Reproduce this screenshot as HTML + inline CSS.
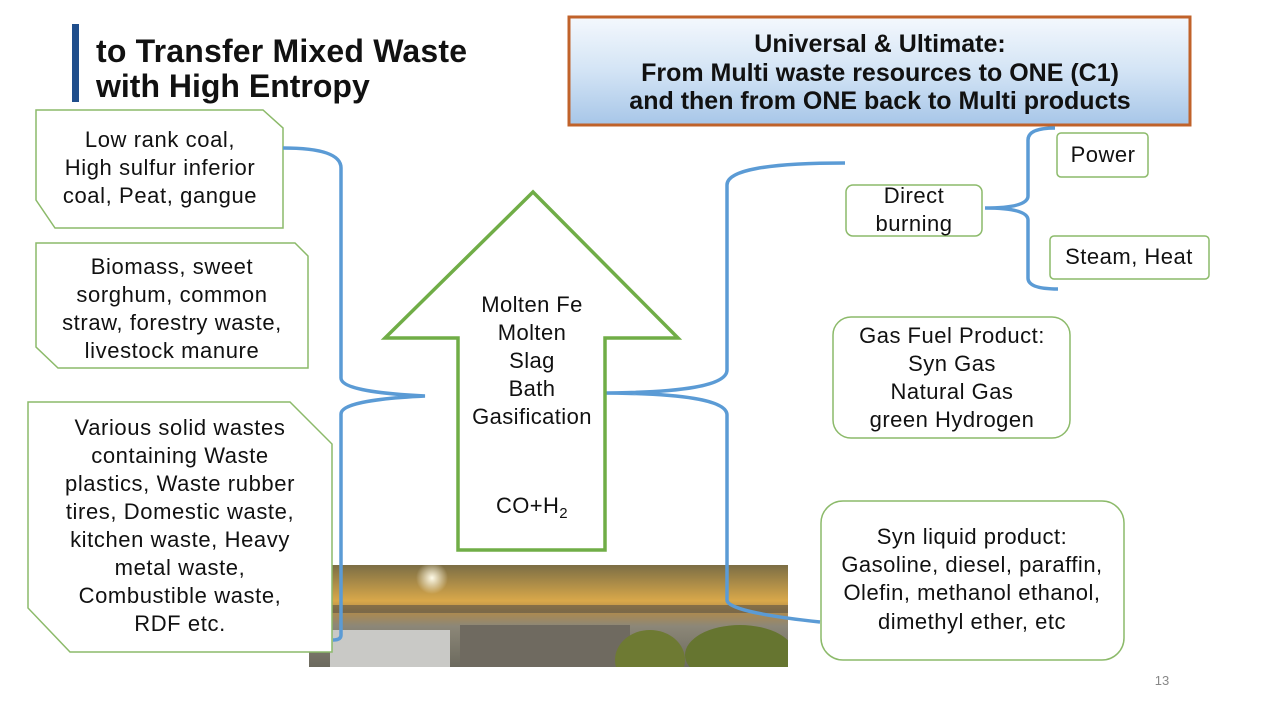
<!DOCTYPE html>
<html><head><meta charset="utf-8"><style>
html,body{margin:0;padding:0;background:#fff}
body{width:1267px;height:713px;overflow:hidden;position:relative;font-family:"Liberation Sans","Noto Sans CJK SC",sans-serif}
svg{position:absolute;left:0;top:0}
</style></head><body>
<svg width="1267" height="713" viewBox="0 0 1267 713" font-family="'Liberation Sans','Noto Sans CJK SC',sans-serif">
<defs>
<linearGradient id="tb" x1="0" y1="0" x2="0" y2="1"><stop offset="0" stop-color="#f4f8fd"/><stop offset="0.5" stop-color="#d3e4f5"/><stop offset="1" stop-color="#a7c6e8"/></linearGradient>
<linearGradient id="sky" x1="0" y1="0" x2="0" y2="1"><stop offset="0" stop-color="#7c6e45"/><stop offset="0.35" stop-color="#d9a84a"/><stop offset="0.45" stop-color="#b08a4a"/><stop offset="0.6" stop-color="#8c8778"/><stop offset="1" stop-color="#6c6a5e"/></linearGradient>
<radialGradient id="sun" cx="0.5" cy="0.5" r="0.5"><stop offset="0" stop-color="#fffbe8"/><stop offset="1" stop-color="#fffbe8" stop-opacity="0"/></radialGradient>
<clipPath id="pc"><rect x="309" y="565" width="479" height="102"/></clipPath>
</defs>
<rect x="72" y="24" width="7" height="78" fill="#1f4e8c"/>
<text x="96" y="62" font-size="32" font-weight="bold" fill="#111" textLength="371">to Transfer Mixed Waste</text>
<text x="96" y="97" font-size="32" font-weight="bold" fill="#111">with High Entropy</text>
<rect x="569" y="17" width="621" height="108" fill="url(#tb)" stroke="#c0622a" stroke-width="3"/>
<g font-size="25" font-weight="bold" text-anchor="middle" fill="#111">
<text x="880" y="52">Universal &amp; Ultimate:</text>
<text x="880" y="81">From Multi waste resources to ONE (C1)</text>
<text x="880" y="109">and then from ONE back to Multi products</text>
</g>
<g clip-path="url(#pc)">
<rect x="309" y="565" width="479" height="102" fill="url(#sky)"/>
<circle cx="432" cy="578" r="16" fill="url(#sun)"/>
<rect x="309" y="605" width="479" height="8" fill="#5a5346" opacity="0.6"/>
<rect x="330" y="630" width="120" height="37" fill="#c9c9c6"/>
<rect x="460" y="625" width="170" height="42" fill="#6f6a60"/>
<ellipse cx="650" cy="660" rx="35" ry="30" fill="#6e7a33"/>
<ellipse cx="740" cy="655" rx="55" ry="30" fill="#667530"/>
</g>
<g fill="#fff" stroke="#8cba6a" stroke-width="1.5">
<polygon points="36,110 263,110 283,128 283,228 55,228 36,200"/>
<polygon points="36,243 295,243 308,256 308,368 58,368 36,347"/>
<polygon points="28,402 290,402 332,444 332,652 70,652 28,608"/>
</g>
<g font-size="22" letter-spacing="0.6" text-anchor="middle" fill="#111">
<text x="160" y="147">Low rank coal,</text>
<text x="160" y="175">High sulfur inferior</text>
<text x="160" y="203">coal, Peat, gangue</text>
<text x="172" y="274">Biomass, sweet</text>
<text x="172" y="302">sorghum, common</text>
<text x="172" y="330">straw, forestry waste,</text>
<text x="172" y="358">livestock manure</text>
<text x="180" y="435">Various solid wastes</text>
<text x="180" y="463">containing Waste</text>
<text x="180" y="491">plastics, Waste rubber</text>
<text x="180" y="519">tires, Domestic waste,</text>
<text x="180" y="547">kitchen waste, Heavy</text>
<text x="180" y="575">metal waste,</text>
<text x="180" y="603">Combustible waste,</text>
<text x="180" y="631">RDF etc.</text>
</g>
<g fill="none" stroke="#5b9bd5" stroke-width="3.5">
<path d="M283,148 Q341,148 341,168 L341,378 Q341,392 425,396 Q341,400 341,414 L341,635 Q341,640 333,640"/>
<path d="M845,163 Q727,163 727,185 L727,370 Q727,393 597,393 Q727,393 727,415 L727,600 Q727,612 820,622"/>
<path d="M1055,128 Q1028,128 1028,140 L1028,196 Q1028,208 985,208 Q1028,208 1028,220 L1028,278 Q1028,289 1058,289"/>
</g>
<polygon points="533,192 678,338 605,338 605,550 458,550 458,338 385,338" fill="#fff" stroke="#70ad47" stroke-width="3.5"/>
<g font-size="22" letter-spacing="0.4" text-anchor="middle" fill="#111">
<text x="532" y="312">Molten Fe</text>
<text x="532" y="340">Molten</text>
<text x="532" y="368">Slag</text>
<text x="532" y="396">Bath</text>
<text x="532" y="424">Gasification</text>
<text x="532" y="513">CO+H<tspan font-size="15" dy="5">2</tspan></text>
</g>
<g fill="#fff" stroke="#8cba6a" stroke-width="1.5">
<rect x="846" y="185" width="136" height="51" rx="7"/>
<rect x="1057" y="133" width="91" height="44" rx="4"/>
<rect x="1050" y="236" width="159" height="43" rx="4"/>
<rect x="833" y="317" width="237" height="121" rx="18"/>
<rect x="821" y="501" width="303" height="159" rx="22"/>
</g>
<g font-size="22" letter-spacing="0.5" text-anchor="middle" fill="#111">
<text x="914" y="203">Direct</text>
<text x="914" y="231">burning</text>
<text x="1103" y="162">Power</text>
<text x="1129" y="264">Steam, Heat</text>
<text x="952" y="343">Gas Fuel Product:</text>
<text x="952" y="371">Syn Gas</text>
<text x="952" y="399">Natural Gas</text>
<text x="952" y="427">green Hydrogen</text>
<text x="972" y="544">Syn liquid product:</text>
<text x="972" y="572">Gasoline, diesel, paraffin,</text>
<text x="972" y="600">Olefin, methanol ethanol,</text>
<text x="972" y="629">dimethyl ether, etc</text>
</g>
<text x="1162" y="685" font-size="13" text-anchor="middle" fill="#888">13</text>
</svg>
</body></html>
